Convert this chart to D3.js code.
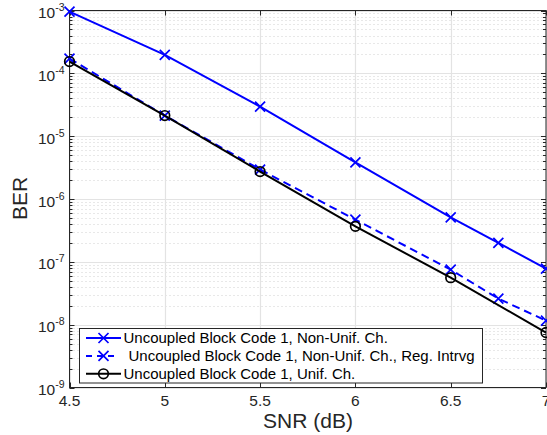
<!DOCTYPE html>
<html>
<head>
<meta charset="utf-8">
<script src="https://cdn.jsdelivr.net/npm/d3@7"></script>
<style>
body { margin: 0; background: #fff; }
text { font-family: "Liberation Sans", Arial, sans-serif; }
</style>
</head>
<body>
<div id="chart"></div>
<script>
let width = 547,
	height = 435;

// data
let snr = [4.5, 5, 5.5, 6, 6.5, 6.75, 7];
let snrUnif = [4.5, 5, 5.5, 6, 6.5, 7];
let berNonUnif = [9.6e-4, 1.97e-4, 2.96e-5, 3.84e-6, 5.1e-7, 2.0e-7, 7.8e-8];
let berRegIntrvg = [1.72e-4, 2.13e-5, 2.94e-6, 4.7e-7, 7.5e-8, 2.6e-8, 1.16e-8];
let berUnif = [1.54e-4, 2.13e-5, 2.73e-6, 3.67e-7, 5.6e-8, 7.5e-9];
let xTicks = [4.5, 5, 5.5, 6, 6.5, 7];
let yExps = [-3, -4, -5, -6, -7, -8, -9];
let labels = ["Uncoupled Block Code 1, Non-Unif. Ch.",
	"Uncoupled Block Code 1, Non-Unif. Ch., Reg. Intrvg",
	"Uncoupled Block Code 1, Unif. Ch."];

let series = [
	{ x: snr, y: berNonUnif, color: "#0000ff", dash: null, marker: "x" },
	{ x: snr, y: berRegIntrvg, color: "#0000ff", dash: "8,5", marker: "x" },
	{ x: snrUnif, y: berUnif, color: "#000000", dash: null, marker: "o" }
];

let pLeft = 69.5, pRight = 546, pTop = 10.5, pBottom = 387.5;

let svg = d3.select('#chart').append('svg')
	.attr('width', width)
	.attr('height', height);

let x = d3.scaleLinear().domain([4.5, 7]).range([pLeft, pRight]);
let y = d3.scaleLog().domain([1e-9, 1e-3]).range([pBottom, pTop]);

// grid
let grid = svg.append('g');
let minor = [];
for (let e = -9; e < -3; e++) {
	for (let m = 2; m <= 9; m++) minor.push(m * Math.pow(10, e));
}
grid.selectAll('.minor').data(minor).enter().append('line')
	.attr('x1', pLeft).attr('x2', pRight)
	.attr('y1', d => Math.round(y(d)) + 0.5).attr('y2', d => Math.round(y(d)) + 0.5)
	.attr('stroke', '#d0d0d0').attr('stroke-width', 1).attr('stroke-dasharray', '1,3');
grid.selectAll('.majy').data(yExps).enter().append('line')
	.attr('x1', pLeft).attr('x2', pRight)
	.attr('y1', d => Math.round(y(Math.pow(10, d))) + 0.5).attr('y2', d => Math.round(y(Math.pow(10, d))) + 0.5)
	.attr('stroke', '#e3e3e3').attr('stroke-width', 1.2);
grid.selectAll('.majx').data(xTicks).enter().append('line')
	.attr('x1', d => Math.round(x(d)) + 0.5).attr('x2', d => Math.round(x(d)) + 0.5)
	.attr('y1', pTop).attr('y2', pBottom)
	.attr('stroke', '#e3e3e3').attr('stroke-width', 1.2);

// axes frame
let axisColor = '#262626';
svg.append('rect')
	.attr('x', pLeft).attr('y', pTop)
	.attr('width', pRight - pLeft).attr('height', pBottom - pTop)
	.attr('fill', 'none').attr('stroke', axisColor).attr('stroke-width', 1);

// ticks
let ticks = svg.append('g').attr('stroke', axisColor).attr('stroke-width', 1);
xTicks.forEach(function (t) {
	let px = Math.round(x(t)) + 0.5;
	ticks.append('line').attr('x1', px).attr('x2', px).attr('y1', pBottom).attr('y2', pBottom - 5);
	ticks.append('line').attr('x1', px).attr('x2', px).attr('y1', pTop).attr('y2', pTop + 5);
});
yExps.forEach(function (e) {
	let py = Math.round(y(Math.pow(10, e))) + 0.5;
	ticks.append('line').attr('x1', pLeft).attr('x2', pLeft + 5).attr('y1', py).attr('y2', py);
	ticks.append('line').attr('x1', pRight).attr('x2', pRight - 5).attr('y1', py).attr('y2', py);
});
minor.forEach(function (v) {
	let py = Math.round(y(v)) + 0.5;
	ticks.append('line').attr('x1', pLeft).attr('x2', pLeft + 3).attr('y1', py).attr('y2', py);
	ticks.append('line').attr('x1', pRight).attr('x2', pRight - 3).attr('y1', py).attr('y2', py);
});

// tick labels
svg.selectAll('.xl').data(xTicks).enter().append('text')
	.attr('x', d => x(d)).attr('y', 406)
	.attr('text-anchor', 'middle')
	.attr('font-size', 15.5).attr('fill', axisColor)
	.text(d => d);

yExps.forEach(function (e) {
	let t = svg.append('text')
		.attr('x', pLeft - 5).attr('y', y(Math.pow(10, e)) + 7.5)
		.attr('text-anchor', 'end')
		.attr('font-size', 15.5).attr('fill', axisColor);
	t.append('tspan').text('10');
	t.append('tspan').attr('dy', -7).attr('font-size', 10.5).text(e);
});

// axis titles
svg.append('text')
	.attr('x', 308).attr('y', 428)
	.attr('text-anchor', 'middle').attr('font-size', 21).attr('fill', axisColor)
	.text('SNR (dB)');
svg.append('text')
	.attr('transform', 'translate(26.5,198.5) rotate(-90)')
	.attr('text-anchor', 'middle').attr('font-size', 21).attr('fill', axisColor)
	.text('BER');

// series
let line = d3.line();
function drawMarker(g, kind, cx, cy, color) {
	if (kind === "x") {
		g.append('path')
			.attr('d', 'M' + (cx - 5) + ',' + (cy - 5) + 'L' + (cx + 5) + ',' + (cy + 5) +
				'M' + (cx - 5) + ',' + (cy + 5) + 'L' + (cx + 5) + ',' + (cy - 5))
			.attr('stroke', color).attr('stroke-width', 1.7).attr('fill', 'none');
	} else {
		g.append('circle').attr('cx', cx).attr('cy', cy).attr('r', 4.8)
			.attr('stroke', color).attr('stroke-width', 1.7).attr('fill', 'none');
	}
}

let plot = svg.append('g');
series.forEach(function (s) {
	let pts = s.x.map((v, i) => [x(v), y(s.y[i])]);
	plot.append('path')
		.attr('d', line(pts))
		.attr('fill', 'none')
		.attr('stroke', s.color)
		.attr('stroke-width', 2)
		.attr('stroke-dasharray', s.dash);
	pts.forEach(p => drawMarker(plot, s.marker, p[0], p[1], s.color));
});

// legend
let lg = svg.append('g');
lg.append('rect')
	.attr('x', 79.5).attr('y', 328.5).attr('width', 403).attr('height', 54.5)
	.attr('fill', '#fff').attr('stroke', axisColor).attr('stroke-width', 1);
series.forEach(function (s, i) {
	let ly = 338 + i * 17.9;
	lg.append('line')
		.attr('x1', 86).attr('x2', s.dash ? 114 : 121).attr('y1', ly).attr('y2', ly)
		.attr('stroke', s.color).attr('stroke-width', 2)
		.attr('stroke-dasharray', s.dash ? "6,5" : null);
	drawMarker(lg, s.marker, 103.5, ly, s.color);
	lg.append('text')
		.attr('x', s.dash ? 128.5 : 123.5).attr('y', ly + 5.2)
		.attr('font-size', 15).attr('fill', '#000')
		.text(labels[i]);
});
</script>
</body>
</html>
